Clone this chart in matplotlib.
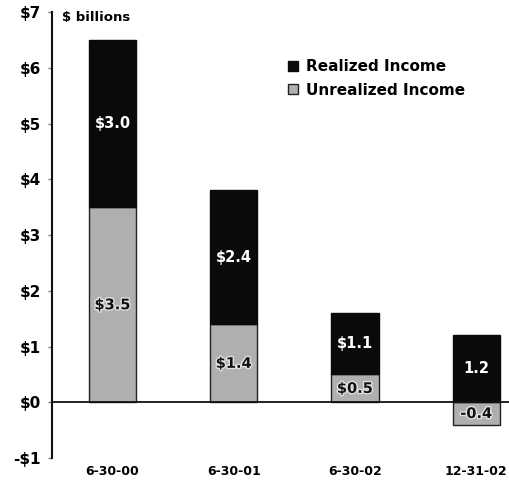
import numpy as np
import matplotlib.pyplot as plt
import matplotlib.patheffects as pe

plt.rcParams['font.family'] = ['DejaVu Sans']
plt.rcParams['font.weight'] = 'bold'

dates = ['6-30-00', '6-30-01', '6-30-02', '12-31-02']
realized = [3.0, 2.4, 1.1, 1.2]
unrealized = [3.5, 1.4, 0.5, -0.4]
dollar_sign = [True, True, True, False]
y_ticks = [-1, 0, 1, 2, 3, 4, 5, 6, 7]

fig = plt.figure(figsize=(5.09, 4.91), dpi=100)
ax = fig.add_axes([0.102, 0.067, 0.898, 0.9085])

x = np.arange(len(dates))
w = 0.39
gray = '#afafaf'

# realized sits on top of positive unrealized, starts at zero when unrealized is negative
bottoms = [u if u > 0 else 0 for u in unrealized]
ax.bar(x, unrealized, w, color=gray, edgecolor='#222222', linewidth=1.0,
       label='Unrealized Income', zorder=2)
ax.bar(x, realized, w, bottom=bottoms, color='#0a0a0a', edgecolor='#0a0a0a',
       linewidth=1.0, label='Realized Income', zorder=2)

def fmt(v, d):
    s = f'{abs(v):.1f}'
    if d:
        s = '$' + s
    return ('-' if v < 0 else '') + s

for i in range(len(dates)):
    ax.text(x[i], bottoms[i] + realized[i] / 2, fmt(realized[i], dollar_sign[i]),
            ha='center', va='center', color='white', fontsize=10.5, fontweight='bold', zorder=3)
    ax.text(x[i], unrealized[i] / 2, fmt(unrealized[i], dollar_sign[i]),
            ha='center', va='center', color='#111111', fontsize=10.5, fontweight='bold',
            zorder=3, path_effects=[pe.withStroke(linewidth=2, foreground='#e0e0e0')])

ax.axhline(0, color='#111111', linewidth=1.3, zorder=4)

ax.set_xlim(-0.5, 3.27)
ax.set_ylim(-1, 7)
ax.set_yticks(y_ticks)
ax.set_yticklabels([('-$' if t < 0 else '$') + str(abs(t)) for t in y_ticks],
                   fontsize=11, fontweight='bold')
ax.set_xticks(x)
ax.set_xticklabels(dates, fontsize=9, fontweight='bold')
ax.tick_params(axis='x', length=0, pad=5)
ax.tick_params(axis='y', length=3, width=1, color='#777777', pad=5)

for s in ['top', 'right', 'bottom']:
    ax.spines[s].set_visible(False)
ax.spines['left'].set_linewidth(1.5)
ax.spines['left'].set_color('#111111')

ax.text(0.022, 1.003, '$ billions', transform=ax.transAxes, fontsize=9.5,
        fontweight='bold', va='top', ha='left')

handles, labels = ax.get_legend_handles_labels()
leg = ax.legend(handles[::-1], labels[::-1], loc='center left', bbox_to_anchor=(0.516, 0.851),
                frameon=False, fontsize=11, handlelength=0.65, handleheight=0.65,
                handletextpad=0.55, labelspacing=0.55, borderpad=0, borderaxespad=0)

fig.savefig('out.png', dpi=100)
